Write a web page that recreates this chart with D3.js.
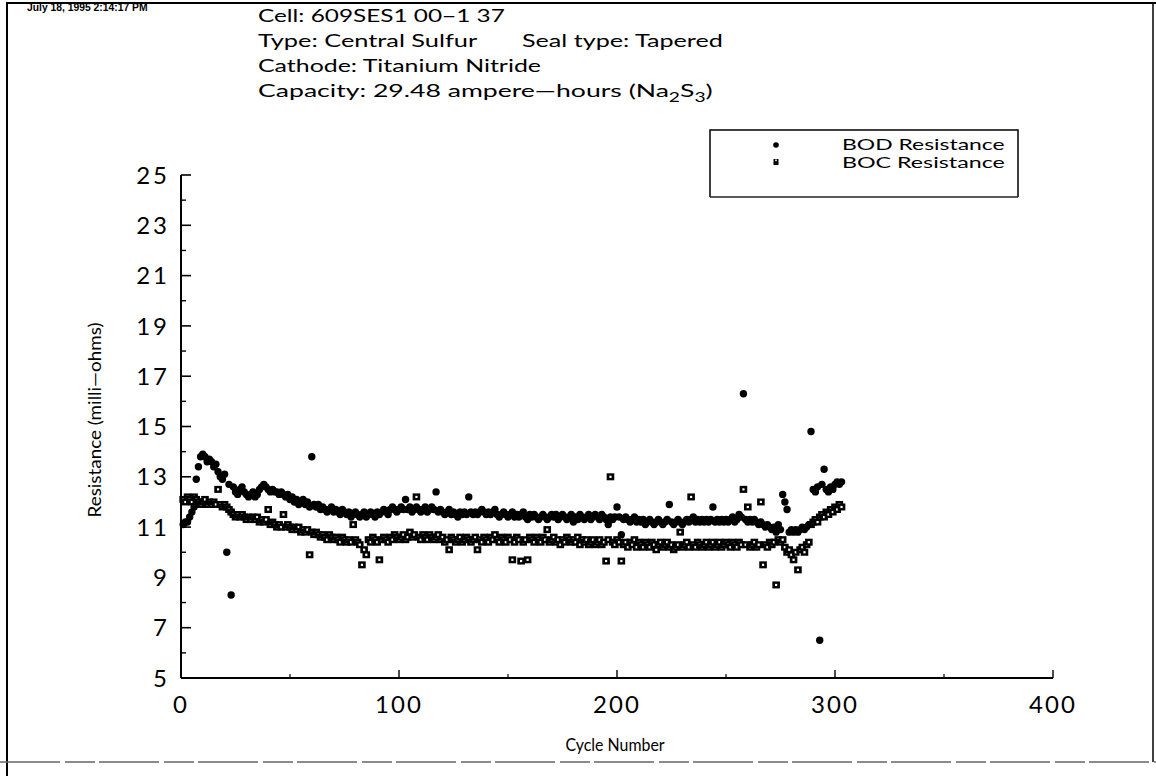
<!DOCTYPE html>
<html><head><meta charset="utf-8">
<script src="https://cdn.jsdelivr.net/npm/d3@7"></script>
<style>
html,body{margin:0;padding:0;background:#fff;}
svg text{font-family:"Lato","DejaVu Sans",sans-serif;fill:#000;}
</style></head>
<body><svg id="chart" width="1156" height="776"></svg>
<script>
// ---- data ----
const cycles = d3.range(1, 304);
const bodValues = [
11.1,11.2,11.2,11.4,11.6,11.8,12.9,13.4,13.8,13.9,
13.8,13.6,13.7,13.6,13.4,13.5,13.2,13.0,12.9,13.1,
10.0,12.7,8.3,12.6,12.4,12.3,12.5,12.6,12.4,12.3,
12.2,12.3,12.4,12.2,12.3,12.5,12.6,12.7,12.6,12.5,
12.4,12.5,12.4,12.4,12.3,12.4,12.3,12.2,12.3,12.1,
12.2,12.0,12.1,11.9,12.0,12.1,11.9,12.0,11.8,13.8,
11.9,11.8,11.9,11.7,11.8,11.7,11.6,11.7,11.8,11.6,
11.7,11.6,11.5,11.7,11.6,11.5,11.6,11.4,11.5,11.6,
11.5,11.4,11.5,11.6,11.4,11.5,11.6,11.5,11.4,11.6,
11.5,11.6,11.7,11.6,11.5,11.7,11.8,11.7,11.6,11.7,
11.8,11.7,12.1,11.7,11.8,11.6,11.7,11.8,11.7,11.6,
11.7,11.8,11.6,11.7,11.8,11.7,12.4,11.6,11.7,11.6,
11.5,11.6,11.7,11.5,11.6,11.5,11.4,11.6,11.5,11.6,
11.5,12.2,11.6,11.5,11.6,11.5,11.6,11.7,11.6,11.5,
11.6,11.5,11.6,11.7,11.5,11.4,11.5,11.6,11.5,11.4,
11.5,11.6,11.4,11.5,11.4,11.5,11.6,11.4,11.3,11.5,
11.4,11.5,11.4,11.3,11.4,11.5,11.4,11.3,11.4,11.5,
11.4,11.5,11.3,11.4,11.5,11.4,11.3,11.4,11.5,11.2,
11.4,11.3,11.5,11.4,11.3,11.4,11.5,11.3,11.4,11.5,
11.4,11.3,11.5,11.4,11.3,11.1,11.4,11.3,11.4,11.8,
11.4,10.7,11.3,11.4,11.3,11.2,11.3,11.4,11.2,11.3,
11.2,11.3,11.1,11.2,11.3,11.2,11.1,11.2,11.3,11.2,
11.1,11.2,11.3,11.9,11.2,11.1,11.2,11.3,11.2,11.1,
11.2,11.3,11.2,11.3,11.4,11.2,11.3,11.2,11.3,11.2,
11.3,11.2,11.3,11.8,11.2,11.3,11.2,11.3,11.2,11.3,
11.2,11.3,11.4,11.2,11.3,11.5,11.4,16.3,11.3,11.2,
11.3,11.2,11.3,11.2,11.1,11.2,11.1,11.0,11.1,11.0,
10.9,11.0,10.8,11.1,10.9,12.3,12.0,11.7,10.8,10.9,
10.8,10.9,10.8,10.9,11.0,10.9,11.0,11.1,14.8,12.5,
12.4,12.6,6.5,12.7,13.3,12.5,12.4,12.6,12.5,12.7,
12.8,12.7,12.8
];
const bocValues = [
12.1,12.0,12.2,12.1,12.0,12.2,12.1,12.0,11.9,12.0,
12.1,11.9,12.0,11.9,12.0,11.9,12.5,11.9,11.8,11.9,
11.8,11.7,11.6,11.5,11.4,11.5,11.4,11.5,11.4,11.3,
11.4,11.3,11.4,11.3,11.4,11.2,11.3,11.2,11.3,11.7,
11.1,11.2,11.1,11.0,11.1,11.0,11.5,11.0,11.1,11.0,
10.9,11.0,10.9,11.0,10.8,10.9,10.8,10.9,9.9,10.8,
10.7,10.8,10.7,10.6,10.7,10.6,10.5,10.7,10.6,10.5,
10.6,10.5,10.4,10.6,10.5,10.4,10.5,10.4,11.1,10.5,
10.4,10.3,9.5,10.1,9.9,10.5,10.4,10.6,10.5,10.4,
9.7,10.5,10.6,10.5,10.4,10.6,10.5,10.7,10.6,10.5,
10.6,10.7,10.5,10.6,10.8,10.6,10.7,12.2,10.6,10.5,
10.7,10.6,10.5,10.7,10.6,10.5,10.6,10.7,10.5,10.6,
10.4,10.5,10.1,10.6,10.5,10.4,10.5,10.6,10.4,10.5,
10.6,10.5,10.4,10.5,10.6,10.1,10.5,10.4,10.6,10.5,
10.4,10.6,10.5,10.7,10.5,10.4,10.6,10.5,10.4,10.6,
10.5,9.7,10.4,10.6,10.5,9.65,10.4,10.5,9.7,10.6,
10.5,10.4,10.6,10.5,10.4,10.6,10.5,10.9,10.4,10.5,
10.6,10.4,10.5,10.3,10.5,10.4,10.6,10.5,10.4,10.5,
10.4,10.6,10.3,10.5,10.4,10.5,10.3,10.4,10.5,10.3,
10.4,10.5,10.3,10.4,9.65,10.5,13.0,10.4,10.3,10.5,
10.4,9.65,10.3,10.4,10.2,10.4,10.3,10.5,10.2,10.4,
10.3,10.2,10.4,10.3,10.2,10.4,10.3,10.1,10.3,10.4,
10.2,10.3,10.4,10.2,10.3,10.1,10.2,10.3,10.8,10.2,
10.3,10.4,10.2,12.2,10.3,10.2,10.4,10.3,10.2,10.3,
10.4,10.2,10.3,10.4,10.2,10.3,10.4,10.2,10.3,10.4,
10.3,10.2,10.4,10.3,10.2,10.4,10.3,12.5,10.3,11.8,
10.2,10.3,10.4,10.2,10.3,12.0,9.5,10.3,10.2,10.4,
10.3,10.4,8.7,10.5,10.4,10.5,10.2,10.0,10.1,9.9,
9.7,10.0,9.3,10.1,10.2,10.0,10.3,10.4,11.1,11.2,
11.3,11.2,11.4,11.5,11.4,11.6,11.5,11.7,11.6,11.8,
11.7,11.9,11.8
];
const seriesNames = ["BOD Resistance", "BOC Resistance"];
const xTicks = [0, 100, 200, 300, 400];
const yTicks = [5, 7, 9, 11, 13, 15, 17, 19, 21, 23, 25];
const stamp = "July 18, 1995  2:14:17 PM";
const cellLine = "Cell: 609SES1 00\u22121 37";
const typeLine = "Type: Central Sulfur";
const sealLine = "Seal type: Tapered";
const cathodeLine = "Cathode: Titanium Nitride";

// ---- drawing ----
const svg = d3.select("#chart");
const x = d3.scaleLinear().domain([0, 400]).range([181, 1053]);
const y = d3.scaleLinear().domain([5, 25]).range([678, 175]);

// stretch a text horizontally about an anchor x so that its width is w
function fit(sel, ax, w){
  const bb = sel.node().getBBox();
  const k = w / bb.width;
  sel.attr("transform", `translate(${ax},0) scale(${k},1) translate(${-ax},0)`);
  return sel;
}

// outer frame
svg.append("line").attr("x1",7).attr("x2",7).attr("y1",2).attr("y2",776).attr("stroke","#000").attr("stroke-width",2);
svg.append("line").attr("x1",7).attr("x2",1156).attr("y1",3).attr("y2",3).attr("stroke","#000").attr("stroke-width",2);
svg.append("line").attr("x1",1153).attr("x2",1153).attr("y1",2).attr("y2",762).attr("stroke","#000").attr("stroke-width",1.5);
svg.append("line").attr("x1",0).attr("x2",1156).attr("y1",762).attr("y2",762).attr("stroke","#666").attr("stroke-width",1.5).attr("stroke-dasharray","60,5,30,4");

// header
fit(svg.append("text").attr("x",27).attr("y",11).text(stamp)
  .style("font-family","'Liberation Sans Narrow','Liberation Sans',sans-serif").style("font-size","10.5px").style("font-weight","bold"), 27, 121);
const hdr = svg.append("g").style("font-size","18px");
fit(hdr.append("text").attr("x",258).attr("y",22).text(cellLine), 258, 247);
fit(hdr.append("text").attr("x",258).attr("y",47).text(typeLine), 258, 220);
fit(hdr.append("text").attr("x",522).attr("y",47).text(sealLine), 522, 201);
fit(hdr.append("text").attr("x",258).attr("y",72).text(cathodeLine), 258, 283);
const cap = hdr.append("text").attr("x",258).attr("y",97);
cap.append("tspan").text("Capacity: 29.48 ampere\u2014hours (Na");
cap.append("tspan").attr("dy",5).style("font-size","13px").text("2");
cap.append("tspan").attr("dy",-5).text("S");
cap.append("tspan").attr("dy",5).style("font-size","13px").text("3");
cap.append("tspan").attr("dy",-5).text(")");
fit(cap, 258, 455);

// axes
const yMinor = d3.range(6, 25, 2);
const gy = svg.append("g");
gy.append("line").attr("x1",x(0)).attr("x2",x(0)).attr("y1",y(25)).attr("y2",y(5)).attr("stroke","#000").attr("stroke-width",2);
gy.selectAll(".ymaj").data(yTicks).join("line").attr("x1",x(0)).attr("x2",x(0)+10)
  .attr("y1",d=>y(d)).attr("y2",d=>y(d)).attr("stroke","#000").attr("stroke-width",1.6);
gy.selectAll(".ymin").data(yMinor).join("line").attr("x1",x(0)).attr("x2",x(0)+5)
  .attr("y1",d=>y(d)).attr("y2",d=>y(d)).attr("stroke","#000").attr("stroke-width",1.4);
gy.selectAll(".ylab").data(yTicks).join("text").attr("x",170).attr("y",d=>y(d)).attr("dy","0.36em")
  .attr("text-anchor","end").style("font-size","24px").style("letter-spacing","3px").text(d=>d);

const xMinor = [50,150,250,350];
const gx = svg.append("g");
gx.append("line").attr("x1",x(0)).attr("x2",x(400)).attr("y1",y(5)).attr("y2",y(5)).attr("stroke","#000").attr("stroke-width",2.2);
gx.selectAll(".xmaj").data(xTicks).join("line").attr("x1",d=>x(d)).attr("x2",d=>x(d))
  .attr("y1",y(5)).attr("y2",y(5)-8).attr("stroke","#000").attr("stroke-width",1.4);
gx.selectAll(".xmin").data(xMinor).join("line").attr("x1",d=>x(d)).attr("x2",d=>x(d))
  .attr("y1",y(5)).attr("y2",y(5)-4).attr("stroke","#000").attr("stroke-width",1.2);
gx.selectAll(".xlab").data(xTicks).join("text").attr("x",d=>x(d)).attr("y",713)
  .attr("text-anchor","middle").style("font-size","24px").style("letter-spacing","2px").text(d=>d);

fit(svg.append("text").attr("x",615).attr("y",751).attr("text-anchor","middle").style("font-size","17px").text("Cycle Number"), 615, 100);
const ylab = svg.append("g").attr("transform","translate(101,420) rotate(-90)");
fit(ylab.append("text").attr("x",0).attr("y",0).attr("text-anchor","middle").style("font-size","17px").text("Resistance (milli\u2014ohms)"), 0, 195);

// data marks
const plot = svg.append("g");
plot.selectAll(".boc").data(cycles).join("g").attr("transform",(c,i)=>`translate(${x(c)},${y(bocValues[i])})`)
  .each(function(){
    const g = d3.select(this);
    g.append("rect").attr("x",-3.8).attr("y",-3.5).attr("width",7.6).attr("height",7).attr("fill","#000");
    g.append("rect").attr("x",-1.1).attr("y",-1.1).attr("width",2.2).attr("height",2.2).attr("fill","#fff");
  });
plot.selectAll(".bod").data(cycles).join("circle").attr("cx",c=>x(c)).attr("cy",(c,i)=>y(bodValues[i]))
  .attr("r",3.7).attr("fill","#000");

// legend
const lg = svg.append("g");
lg.append("path").attr("d","M710,197 L710,130 L1018,130 L1018,197").attr("fill","none").attr("stroke","#000").attr("stroke-width",1.5);
lg.append("path").attr("d","M710,197 L1018,197").attr("stroke","#222").attr("stroke-width",1.5);
lg.append("circle").attr("cx",776).attr("cy",145).attr("r",2.8).attr("fill","#000");
const lsq = lg.append("g").attr("transform","translate(776,162)");
lsq.append("rect").attr("x",-2.5).attr("y",-3).attr("width",5).attr("height",6).attr("fill","#000");
lsq.append("rect").attr("x",-0.8).attr("y",-2.5).attr("width",1.6).attr("height",1.6).attr("fill","#fff");
seriesNames.forEach((n,i)=>{
  fit(lg.append("text").attr("x",842).attr("y",150+i*18).style("font-size","15px").text(n), 842, 163);
});
</script></body></html>
